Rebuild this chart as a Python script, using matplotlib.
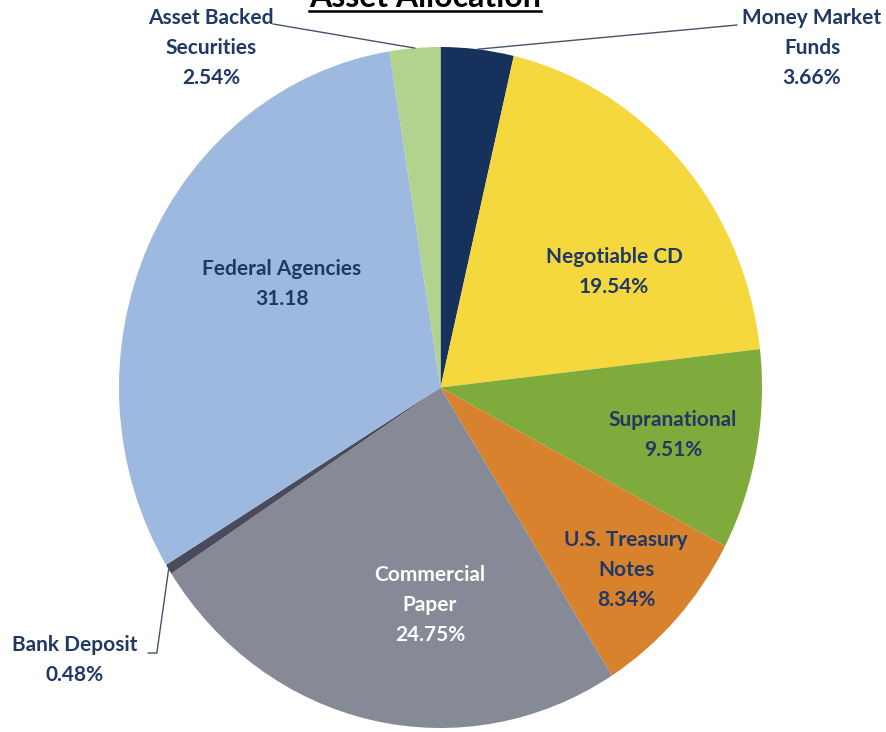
import numpy as np
import matplotlib.pyplot as plt

# Répartition des actifs (en %), dans le sens horaire depuis le haut
categories = ['Money Market\nFunds', 'Negotiable CD', 'Supranational', 'U.S. Treasury\nNotes',
              'Commercial\nPaper', 'Bank Deposit', 'Federal Agencies', 'Asset Backed\nSecurities']
values = [3.66, 19.54, 9.51, 8.34, 24.75, 0.48, 31.18, 2.54]
value_labels = ['3.66%', '19.54%', '9.51%', '8.34%', '24.75%', '0.48%', '31.18', '2.54%']
colors = ['#16325c', '#f5d83e', '#7eab3b', '#d8822e', '#868a96', '#4b4a5a', '#9db9e0', '#b1d38e']

W, H = 886, 732
navy = '#1f3864'
plt.rcParams['font.family'] = ['Lato', 'DejaVu Sans']

def fpx(x, y):
    # pixels (origine en haut à gauche) -> fraction de figure
    return x / W, 1 - y / H

fig = plt.figure(figsize=(W / 100, H / 100), dpi=100)
# axes elliptiques comme dans l'original (légèrement étiré en hauteur)
ax = fig.add_axes([119 / W, (H - 728) / H, 643 / W, 681 / H])
wedges, _ = ax.pie(values, colors=colors, startangle=90, counterclock=False,
                   wedgeprops=dict(linewidth=0))
ax.set_aspect('auto')
ax.set_xlim(-1, 1)
ax.set_ylim(-1, 1)

# positions des étiquettes (centre du bloc, en pixels)
label_pos = [(812, 48), (614, 272), (673, 435), (626, 570),
             (430, 605), (75, 660), (282, 284), (211, 48)]
text_colors = [navy, navy, navy, navy, 'white', navy, navy, navy]

for cat, val, (x, y), c in zip(categories, value_labels, label_pos, text_colors):
    fx, fy = fpx(x, y)
    fig.text(fx, fy, cat + '\n' + val, ha='center', va='center', color=c,
             fontsize=15, fontweight='bold', linespacing=1.65)

# traits de rappel pour les petites parts
leaders = {0: ((737, 25), 'arc3'), 7: ((273, 24), 'arc3'),
           5: ((148, 653), 'angle,angleA=0,angleB=82,rad=0')}
for i, (pt, style) in leaders.items():
    w = wedges[i]
    th = np.deg2rad((w.theta1 + w.theta2) / 2)
    ax.annotate('', xy=(np.cos(th), np.sin(th)), xycoords='data',
                xytext=fpx(*pt), textcoords='figure fraction',
                arrowprops=dict(arrowstyle='-', color='#44546a', lw=1,
                                connectionstyle=style, shrinkA=0, shrinkB=0),
                annotation_clip=False)

# titre souligné (coupé en haut comme l'original)
t = fig.text(*fpx(425, 7), 'Asset Allocation', ha='center', va='baseline',
             fontsize=23, fontweight='bold', color='black')
fig.canvas.draw()
bb = t.get_window_extent()
fig.add_artist(plt.Line2D([bb.x0 / W, bb.x1 / W], [1 - 10.5 / H, 1 - 10.5 / H],
                          color='black', lw=1.8, transform=fig.transFigure))

fig.savefig('out.png', dpi=100)
